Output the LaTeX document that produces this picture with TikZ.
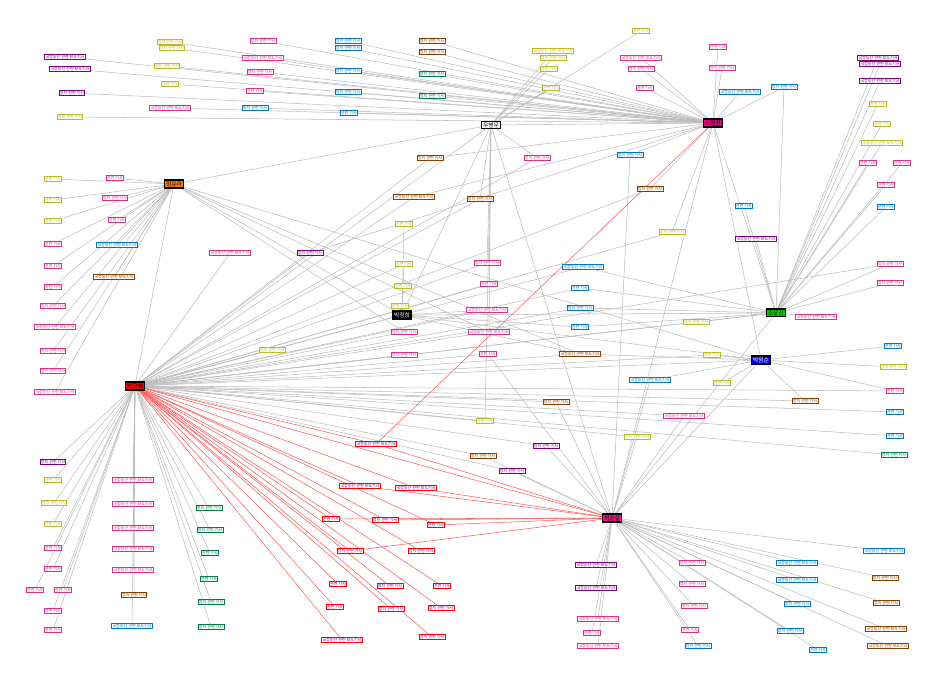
\documentclass[tikz,border=0pt]{standalone}
\usepackage{fontspec}
\newfontfamily\kr{Noto Sans CJK KR}
\usetikzlibrary{backgrounds}

% 색 정의
\definecolor{cOlive}{RGB}{190,185,40}
\definecolor{cPink}{RGB}{215,50,135}
\definecolor{cPurple}{RGB}{125,0,125}
\definecolor{cBlue}{RGB}{0,120,190}
\definecolor{cBrown}{RGB}{130,65,0}
\definecolor{cGreen}{RGB}{0,125,70}
\definecolor{cEdge}{RGB}{188,188,188}
\definecolor{cHubPink}{RGB}{245,20,140}

% 라벨 문자열
\newcommand{\txtS}{관련 기사}
\newcommand{\txtM}{정치 관련 기사}
\newcommand{\txtL}{국정농단 관련 보도기사}

\tikzset{
  leaf/.style={draw, fill=white, line width=0.5pt, inner sep=0.5pt,
    font=\kr\fontsize{2.3}{2.5}\selectfont},
  ol/.style={leaf, draw=cOlive, text=cOlive},
  pk/.style={leaf, draw=cPink, text=cPink},
  pu/.style={leaf, draw=cPurple, text=cPurple},
  bl/.style={leaf, draw=cBlue, text=cBlue},
  br/.style={leaf, draw=cBrown, text=cBrown},
  gr/.style={leaf, draw=cGreen, text=cGreen},
  rd/.style={leaf, draw=red, text=cPurple},
  hub/.style={draw=black, line width=0.8pt, inner sep=0.7pt,
    font=\kr\fontsize{3.3}{3.6}\selectfont},
  link/.style={draw=cEdge, line width=0.3pt},
  redlink/.style={draw=red!65, line width=0.3pt},
}

\begin{document}
\begin{tikzpicture}[x=0.02cm, y=-0.02cm]
    \useasboundingbox (0,0) rectangle (950,688);

    % 중심 노드
    \node[hub, fill=red] (hA) at (135,386) {박근혜};
    \node[hub, fill=cHubPink] (hB) at (612,518) {최순실};
    \node[hub, fill=magenta] (hC) at (713,123) {이정현};
    \node[hub, fill=orange] (hD) at (174,184) {정유라};
    \node[hub, fill=green!85!black] (hE) at (776,313) {조윤선};
    \node[hub, fill=blue, text=white] (hF) at (761,360) {박원순};
    \node[hub, fill=black, text=white] (hG) at (402,315) {박정희};
    \node[hub, fill=white, line width=0.6pt] (hH) at (491,125) {우병우};

    % 위쪽 노드
    \foreach \nm/\x/\y/\s/\lbl in {
      tl1/65/57/pu/\txtL, tl2/70/69/pu/\txtL, tl3/72/93/pu/\txtM,
      tl4/70/117/ol/\txtM, tl5/170/42/ol/\txtM, tl6/172/48/ol/\txtM,
      tl7/167/66/ol/\txtM, tl8/170/84/ol/\txtS, tl9/263/41/pk/\txtM,
      tl10/263/58/pk/\txtL, tl11/260/72/pk/\txtM, tl12/255/91/pk/\txtS,
      tl13/170/108/pk/\txtL, tl14/255/108/bl/\txtM, tl15/348/41/bl/\txtM,
      tl16/348/48/bl/\txtM, tl17/348/71/bl/\txtM, tl18/348/92/bl/\txtM,
      tl19/349/113/bl/\txtS, tl20/432/41/br/\txtM, tl21/432/52/br/\txtM,
      tl22/432/74/gr/\txtM, tl23/432/96/gr/\txtM,
      tc1/553/51/ol/\txtL, tc2/553/58/ol/\txtM, tc3/549/69/ol/\txtS,
      tc4/551/88/ol/\txtS, tc5/641/31/ol/\txtS, tc6/641/58/pk/\txtL,
      tc7/641/69/pk/\txtM, tc8/645/88/pk/\txtS, tc9/718/47/pk/\txtS,
      tc10/722/68/pk/\txtM, tc11/740/92/bl/\txtL, tc12/784/87/bl/\txtM}
      {\node[\s] (\nm) at (\x,\y) {\lbl};}

    % 오른쪽 노드
    \foreach \nm/\x/\y/\s/\lbl in {
      tr1/878/58/pu/\txtL, tr2/880/64/pu/\txtL, tr3/880/81/pu/\txtL,
      tr4/878/104/ol/\txtS, tr5/882/124/ol/\txtS, tr6/882/143/ol/\txtL,
      tr7/868/163/pk/\txtS, tr8/902/163/pk/\txtS, tr9/886/185/pk/\txtS,
      tr10/886/207/bl/\txtS,
      r1/744/206/bl/\txtS, r2/756/239/pu/\txtL, r3/816/317/pk/\txtL,
      r4/890/264/pk/\txtM, r5/890/283/pk/\txtM, r6/893/346/bl/\txtS,
      r7/893/367/ol/\txtM, r8/895/391/pk/\txtS, r9/895/412/bl/\txtS,
      r10/895/436/bl/\txtS, r11/894/455/gr/\txtM, r12/805/401/br/\txtM}
      {\node[\s] (\nm) at (\x,\y) {\lbl};}

    % 가운데 노드
    \foreach \nm/\x/\y/\s/\lbl in {
      m1/430/158/br/\txtM, m2/537/158/pk/\txtM, m3/630/155/bl/\txtM,
      m4/650/189/br/\txtM, m5/414/197/br/\txtL, m6/480/199/br/\txtM,
      m7/404/224/ol/\txtS, m8/672/232/ol/\txtM, m9/230/253/pk/\txtL,
      m10/310/253/pu/\txtM, m11/404/264/ol/\txtS, m12/487/263/pk/\txtM,
      m13/583/267/bl/\txtL, m14/489/284/pk/\txtS, m15/403/286/ol/\txtS,
      m16/580/288/bl/\txtS, m17/400/306/ol/\txtS, m18/487/310/pk/\txtL,
      m19/580/308/bl/\txtM, m20/696/322/ol/\txtM, m21/489/332/pk/\txtL,
      m22/404/332/pk/\txtM, m23/580/327/bl/\txtS, m24/272/350/ol/\txtM,
      m25/404/355/pk/\txtM, m26/488/354/pk/\txtS, m27/580/354/br/\txtL,
      m28/712/355/ol/\txtS, m29/650/380/bl/\txtL, m30/722/383/ol/\txtS,
      m31/556/402/br/\txtM, m32/684/416/pk/\txtL, m33/485/421/ol/\txtS,
      m34/637/437/ol/\txtM, m35/483/456/br/\txtM, m36/546/446/pu/\txtM,
      m37/512/471/pu/\txtM, m38/376/444/rd/\txtL}
      {\node[\s] (\nm) at (\x,\y) {\lbl};}

    % 왼쪽 노드
    \foreach \nm/\x/\y/\s/\lbl in {
      lc1/53/179/ol/\txtS, lc2/115/178/pk/\txtS, lc3/115/198/pk/\txtM,
      lc4/53/200/ol/\txtS, lc5/53/221/ol/\txtS, lc6/117/220/pk/\txtS,
      lc7/117/245/bl/\txtL, lc8/53/244/pk/\txtS, lc9/53/266/pk/\txtS,
      lc10/114/277/br/\txtL, lc11/53/287/pk/\txtS, lc12/53/306/pk/\txtM,
      lc13/55/327/pk/\txtL, lc14/53/351/pk/\txtM, lc15/53/371/pk/\txtM,
      lc16/55/392/pk/\txtL}
      {\node[\s] (\nm) at (\x,\y) {\lbl};}

    % 아래 왼쪽 노드
    \foreach \nm/\x/\y/\s/\lbl in {
      bl1/53/462/pu/\txtM, bl2/53/480/ol/\txtS, bl3/54/503/ol/\txtM,
      bl4/53/524/ol/\txtS, bl5/53/548/pk/\txtS, bl6/53/569/pk/\txtS,
      bl7/35/590/pk/\txtS, bl8/63/590/pk/\txtS, bl9/53/611/pk/\txtS,
      bl10/53/630/pk/\txtS,
      bc1/133/480/pk/\txtL, bc2/133/504/pk/\txtL, bc3/133/528/pk/\txtL,
      bc4/133/549/pk/\txtL, bc5/133/570/pk/\txtL, bc6/134/595/br/\txtM,
      bc7/132/626/bl/\txtL,
      bg1/209/508/gr/\txtM, bg2/210/530/gr/\txtM, bg3/210/553/gr/\txtS,
      bg4/209/579/gr/\txtS, bg5/211/602/gr/\txtM, bg6/211/627/gr/\txtM}
      {\node[\s] (\nm) at (\x,\y) {\lbl};}

    % 빨간 테두리 노드
    \foreach \nm/\x/\y/\lbl in {
      rd1/360/486/\txtL, rd2/416/488/\txtL, rd3/331/519/\txtS,
      rd4/385/520/\txtM, rd5/436/525/\txtS, rd6/350/551/\txtM,
      rd7/421/551/\txtM, rd8/338/584/\txtS, rd9/390/586/\txtM,
      rd10/442/586/\txtS, rd11/335/607/\txtS, rd12/391/609/\txtM,
      rd13/441/608/\txtM, rd14/342/640/\txtL, rd15/432/637/\txtM}
      {\node[rd] (\nm) at (\x,\y) {\lbl};}

    % 아래 오른쪽 노드
    \foreach \nm/\x/\y/\s/\lbl in {
      br1/596/565/pu/\txtL, br2/596/588/pu/\txtL, br3/598/619/pk/\txtL,
      br4/592/633/pk/\txtS, br5/598/646/pk/\txtL, br6/692/563/pk/\txtM,
      br7/692/584/pk/\txtM, br8/694/606/pk/\txtM, br9/690/630/pk/\txtS,
      br10/698/646/bl/\txtM, br11/797/563/bl/\txtL, br12/797/580/bl/\txtL,
      br13/797/604/bl/\txtM, br14/790/631/bl/\txtM, br15/818/650/bl/\txtS,
      br16/884/551/bl/\txtL, br17/885/578/br/\txtM, br18/886/603/br/\txtM,
      br19/886/629/br/\txtL, br20/888/646/br/\txtL}
      {\node[\s] (\nm) at (\x,\y) {\lbl};}

    % 연결선
    \begin{pgfonlayer}{background}
      \foreach \a in {tl1,tl2,tl3,tl4,tl5,tl6,tl7,tl8,tl9,tl10,tl11,tl12,
          tl13,tl14,tl15,tl16,tl17,tl18,tl19,tl20,tl21,tl22,tl23,tc6,tc7,
          tc8,tc9,tc10,tc11,tc12,m1,m3,m4,m5,m8,m10,hH,hE,hF,hB}
        \draw[link] (hC) -- (\a);
      \foreach \a in {tc1,tc2,tc3,tc4,tc5,m2,m6,m12,m14,m21,m33,hG,hB,hA}
        \draw[link] (hH) -- (\a);
      \foreach \a in {tr1,tr2,tr3,tr4,tr5,tr6,tr7,tr8,tr9,tr10,r1,r2,r3,
          r4,r5,m13,m16,m19,m20,m23,tc12,hG,hB}
        \draw[link] (hE) -- (\a);
      \foreach \a in {r6,r7,r8,r12,m27,m28,m29,m30,hG}
        \draw[link] (hF) -- (\a);
      \foreach \a in {lc1,lc2,lc3,lc4,lc5,lc6,lc7,lc8,lc9,lc10,lc11,lc12,
          lc13,lc14,lc15,lc16,hA,hG,hH,hF,m22,m21,m27}
        \draw[link] (hD) -- (\a);
      \foreach \a in {m7,m11,m15,m17,m18,m23,m27}
        \draw[link] (hG) -- (\a);
      \foreach \a in {bl1,bl2,bl3,bl4,bl5,bl6,bl7,bl8,bl9,bl10,bc1,bc2,
          bc3,bc4,bc5,bc6,bc7,bg1,bg2,bg3,bg4,bg5,bg6,m1,m2,m4,m5,m6,m8,
          m9,m10,m11,m12,m13,m14,m16,m18,m19,m20,m21,m22,m24,m25,m26,m27,
          m28,m31,m32,m33,m34,m35,m36,m37,r4,r8,r9,r10,r11,r12,hE,hF,hG}
        \draw[link] (hA) -- (\a);
      \foreach \a in {br1,br2,br3,br4,br5,br6,br7,br8,br9,br10,br11,br12,
          br13,br14,br15,br16,br17,br18,br19,br20,m3,m26,m29,m31,m32,m34,
          m35,m36,m37,hF}
        \draw[link] (hB) -- (\a);
      \foreach \a in {rd1,rd2,rd3,rd4,rd5,rd6,rd7,rd8,rd9,rd10,rd11,rd12,
          rd13,rd14,rd15,m38,hB}
        \draw[redlink] (hA) -- (\a);
      \foreach \a in {rd1,rd2,rd3,rd4,rd5,rd6,m38}
        \draw[redlink] (hB) -- (\a);
      \draw[redlink] (m38) -- (hC);
    \end{pgfonlayer}

\end{tikzpicture}
\end{document}
